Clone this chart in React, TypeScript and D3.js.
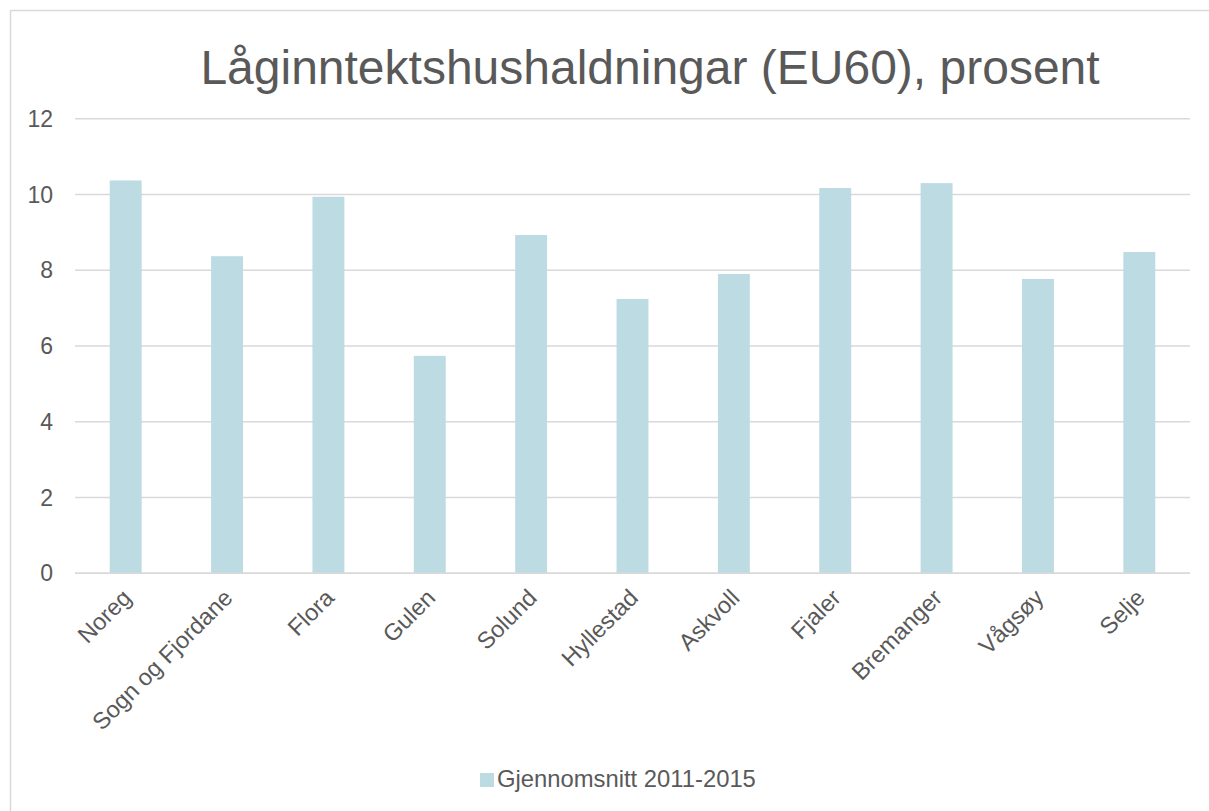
import { useEffect, useRef } from "react";
import * as d3 from "d3";

const categories = [
  "Noreg",
  "Sogn og Fjordane",
  "Flora",
  "Gulen",
  "Solund",
  "Hyllestad",
  "Askvoll",
  "Fjaler",
  "Bremanger",
  "Vågsøy",
  "Selje",
];
const values = [10.37, 8.37, 9.94, 5.74, 8.93, 7.24, 7.9, 10.17, 10.3, 7.77, 8.48];
const yTicks = [0, 2, 4, 6, 8, 10, 12];
const seriesName = "Gjennomsnitt 2011-2015";
const title = "Låginntektshushaldningar (EU60), prosent";

const WIDTH = 1209;
const HEIGHT = 811;
const FONT = "'Liberation Sans', Arial, sans-serif";
const TEXT = "#595959";
const GRID = "#d9d9d9";
const BAR = "#bddbe2";

export default function App() {
  const svgRef = useRef<SVGSVGElement | null>(null);

  useEffect(() => {
    if (!svgRef.current) return;
    const margin = { top: 118.7, right: 19, bottom: 237.7, left: 75 };
    const innerWidth = WIDTH - margin.left - margin.right;
    const innerHeight = HEIGHT - margin.top - margin.bottom;

    const svg = d3.select(svgRef.current);
    svg.selectAll("*").remove();
    svg.style("font-family", FONT);

    // chart frame, runs off the right and bottom edges
    svg
      .append("rect")
      .attr("x", 10.5)
      .attr("y", 10.5)
      .attr("width", WIDTH + 20)
      .attr("height", HEIGHT + 20)
      .attr("fill", "#fff")
      .attr("stroke", GRID)
      .attr("stroke-width", 1.5);

    svg
      .append("text")
      .attr("x", 650)
      .attr("y", 84)
      .attr("text-anchor", "middle")
      .attr("fill", TEXT)
      .attr("font-size", 48)
      .text(title);

    const x = d3
      .scaleBand()
      .domain(categories)
      .range([margin.left, margin.left + innerWidth])
      .padding(0);
    const barWidth = x.bandwidth() * 0.315;

    const y = d3
      .scaleLinear()
      .domain([0, 12])
      .range([margin.top + innerHeight, margin.top]);

    svg
      .append("g")
      .selectAll("line")
      .data(yTicks)
      .join("line")
      .attr("x1", margin.left)
      .attr("x2", margin.left + innerWidth)
      .attr("y1", (t) => y(t))
      .attr("y2", (t) => y(t))
      .attr("stroke", GRID)
      .attr("stroke-width", 1.5);

    svg
      .append("g")
      .selectAll("text")
      .data(yTicks)
      .join("text")
      .attr("x", 53)
      .attr("y", (t) => y(t))
      .attr("dy", "0.35em")
      .attr("text-anchor", "end")
      .attr("fill", TEXT)
      .attr("font-size", 23)
      .text((t) => String(t));

    svg
      .append("g")
      .selectAll("rect")
      .data(values)
      .join("rect")
      .attr("x", (_, i) => (x(categories[i]) ?? 0) + (x.bandwidth() - barWidth) / 2)
      .attr("y", (v) => y(v))
      .attr("width", barWidth)
      .attr("height", (v) => y(0) - y(v))
      .attr("fill", BAR);

    // axis line on top of the bars
    svg
      .append("line")
      .attr("x1", margin.left)
      .attr("x2", margin.left + innerWidth)
      .attr("y1", y(0))
      .attr("y2", y(0))
      .attr("stroke", GRID)
      .attr("stroke-width", 1.5);

    svg
      .append("g")
      .selectAll("text")
      .data(categories)
      .join("text")
      .attr("transform", (c) => {
        const cx = (x(c) ?? 0) + x.bandwidth() / 2 + 7;
        return `translate(${cx},${y(0) + 26}) rotate(-45)`;
      })
      .attr("text-anchor", "end")
      .attr("fill", TEXT)
      .attr("font-size", 23.5)
      .text((c) => c);

    const legend = svg.append("g").attr("transform", "translate(480,773)");
    legend.append("rect").attr("width", 14).attr("height", 14).attr("fill", BAR);
    legend
      .append("text")
      .attr("x", 17)
      .attr("y", 14)
      .attr("fill", TEXT)
      .attr("font-size", 23.8)
      .text(seriesName);
  }, []);

  return (
    <div style={{ position: "absolute", left: 0, top: 0, width: WIDTH, height: HEIGHT, overflow: "hidden" }}>
      <svg ref={svgRef} width={WIDTH} height={HEIGHT} />
    </div>
  );
}
